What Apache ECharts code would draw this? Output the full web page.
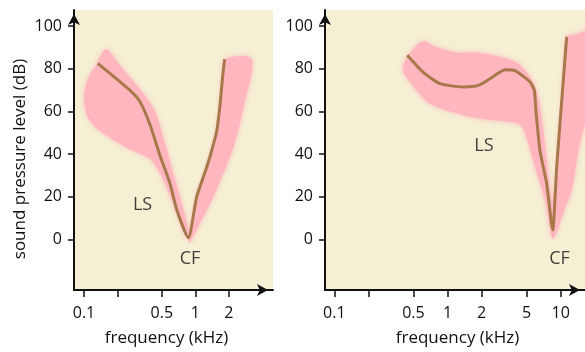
<!DOCTYPE html>
<html><head><meta charset="utf-8">
<script src="https://cdn.jsdelivr.net/npm/echarts@6/dist/echarts.min.js"></script>
<style>html,body{margin:0;padding:0;background:#fff}#c{width:585px;height:352px}</style>
</head><body><div id="c"></div>
<script>
// ---- data (frequency in kHz, level in dB) ----
const leftLine = [[0.133,82.5],[0.268,69.2],[0.318,64.6],[0.392,53.8],[0.482,39.3],[0.593,26.2],[0.681,14.0],[0.865,0.9],[1.03,20.1],[1.266,33.9],[1.403,41.6],[1.557,50.8],[1.667,63],[1.763,76.8],[1.837,84.5]];
const leftBand = [[0.1576,89.1],[0.2106,81.4],[0.341,68.4],[0.4345,60.0],[0.516,47.7],[0.6344,30.8],[0.7546,17.0],[0.865,4.8],[0.8834,-1.4],[1.030,4.8],[1.451,20.1],[2.194,43.1],[2.699,61.5],[3.211,84.5],[1.849,84.5],[1.763,76.8],[1.667,63],[1.557,50.8],[1.403,41.6],[1.266,33.9],[1.03,20.1],[0.865,0.9],[0.7546,6.3],[0.6344,17.0],[0.534,26.2],[0.4498,33.9],[0.392,37.7],[0.2419,43.1],[0.1393,50.8],[0.1093,56.9],[0.1,66.1],[0.1071,74.5],[0.13,82.2]];
const rightLine = [[0.4414,86.3],[0.6113,78.3],[0.8586,73.0],[1.379,71.5],[1.871,72.2],[2.374,75.3],[3.221,79.5],[3.948,79.1],[5.356,73.8],[5.846,69.9],[6.051,60.0],[6.563,41.6],[7.52,26.2],[8.50,4.5],[9.22,33.9],[10.2,64.6],[11.30,94.9]];
const rightBand = [[0.402,79.9],[0.4665,87.5],[0.6113,92.9],[0.749,90.6],[1.206,87.5],[1.811,87.5],[2.72,86.0],[4.087,82.9],[5.356,76.2],[6.138,69.3],[6.795,56.9],[7.52,37.0],[8.326,17.0],[8.6,20.0],[9.22,33.9],[10.2,64.6],[11.30,94.9],[13.38,96.0],[18.15,97.3],[18.15,66.1],[14.31,41.6],[12.51,23.2],[10.54,12.4],[9.09,2.6],[8.50,0.3],[8.045,4.8],[7.267,18.6],[5.93,33.9],[5.007,47.7],[4.371,53.8],[3.111,55.4],[1.811,56.9],[1.206,59.2],[0.8586,61.5],[0.655,64.6],[0.4665,73.8]];
const leftTicks = [0.1,0.2,0.5,1,2];
const leftLabels = [0.1,0.5,1,2];
const rightTicks = [0.1,0.2,0.5,1,2,5,10];
const rightLabels = [0.1,0.5,1,2,5,10];
const yTicks = [0,20,40,60,80,100];
const leftNotes = [[0.3355,16.2,'LS'],[0.896,-9.1,'CF']];
const rightNotes = [[2.101,43.8,'LS'],[9.76,-9.1,'CF']];

const FONT = 'Open Sans';
const TXT = '#111111';
const BEIGE = '#f5efd3';
const PINK = '#ffb6be';
const BROWN = '#a8784a';
const FS = 16;

function xAxisCfg(gi, min, max, ticks, labels, pad) {
  return {
    type:'log', logBase:10, gridIndex:gi, min:min, max:max,
    axisLine:{show:true, onZero:false, lineStyle:{color:TXT,width:2}, symbol:['none','arrow'], symbolSize:[9,11], symbolOffset:[0,-5]},
    axisTick:{show:true, length:7, lineStyle:{color:TXT,width:1.5}, customValues:ticks},
    axisLabel:{customValues:labels, margin:15, color:TXT, fontFamily:FONT, fontSize:FS,
      formatter:function(v){return String(+(+v).toPrecision(3));}},
    splitLine:{show:false}, minorTick:{show:false}, minorSplitLine:{show:false},
    name:'frequency (kHz)', nameLocation:'middle', nameGap:40,
    nameTextStyle:{color:TXT, fontFamily:FONT, fontSize:17, padding:pad}
  };
}
function yAxisCfg(gi, withName) {
  const o = {
    type:'value', gridIndex:gi, min:-23.6, max:107.5,
    axisLine:{show:true, onZero:false, lineStyle:{color:TXT,width:2}, symbol:['none','arrow'], symbolSize:[9,11], symbolOffset:[0,-4]},
    axisTick:{show:true, length:6, lineStyle:{color:TXT,width:1.5}, customValues:yTicks},
    axisLabel:{customValues:yTicks, margin:12, color:TXT, fontFamily:FONT, fontSize:FS},
    splitLine:{show:false}
  };
  if (withName) {
    o.name = 'sound pressure level (dB)';
    o.nameLocation = 'middle';
    o.nameGap = 45;
    o.nameTextStyle = {color:TXT, fontFamily:FONT, fontSize:17, padding:[0,18,0,0]};
  }
  return o;
}
function bandSeries(idx, pts) {
  return {
    type:'custom', xAxisIndex:idx, yAxisIndex:idx, data:pts, silent:true, z:1,
    encode:{x:0,y:1},
    renderItem:function(params, api){
      if (params.dataIndex !== 0) return null;
      const p = pts.map(function(d){return api.coord(d);});
      return {type:'polygon', shape:{points:p, smooth:0.3},
        style:{fill:PINK, shadowBlur:5, shadowColor:PINK}};
    }
  };
}
function lineSeries(idx, pts) {
  return {type:'line', xAxisIndex:idx, yAxisIndex:idx, data:pts, showSymbol:false, smooth:0.2,
    lineStyle:{color:BROWN, width:3}, z:3, silent:true};
}
function noteSeries(idx, pts) {
  return {type:'scatter', xAxisIndex:idx, yAxisIndex:idx, data:pts, symbolSize:1, z:4, silent:true,
    itemStyle:{color:'rgba(0,0,0,0)'},
    label:{show:true, position:'inside', color:TXT, fontFamily:FONT, fontSize:18,
      formatter:function(p){return p.value[2];}}};
}

const chart = echarts.init(document.getElementById('c'), null, {renderer:'canvas'});
chart.setOption({
  animation:false,
  backgroundColor:'#ffffff',
  grid:[
    {left:74, top:10, width:199, height:285, show:true, backgroundColor:BEIGE, borderWidth:0},
    {left:325, top:10, width:260, height:285, show:true, backgroundColor:BEIGE, borderWidth:0}
  ],
  xAxis:[ xAxisCfg(0, 0.0813, 4.99, leftTicks, leftLabels, [0,14,0,0]),
          xAxisCfg(1, 0.0828, 16.4, rightTicks, rightLabels, [0,0,0,5]) ],
  yAxis:[ yAxisCfg(0, true), yAxisCfg(1, false) ],
  series:[
    bandSeries(0, leftBand), lineSeries(0, leftLine), noteSeries(0, leftNotes),
    bandSeries(1, rightBand), lineSeries(1, rightLine), noteSeries(1, rightNotes)
  ]
});
</script></body></html>
